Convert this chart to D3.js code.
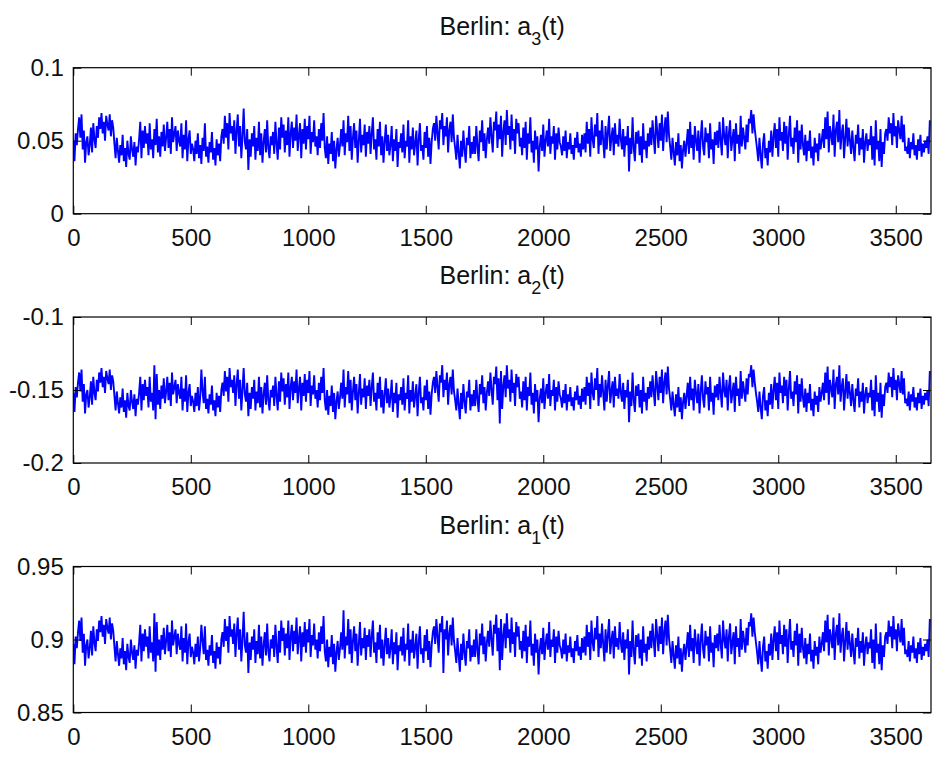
<!DOCTYPE html>
<html>
<head>
<meta charset="utf-8">
<script src="https://cdn.jsdelivr.net/npm/d3@7"></script>
<style>
  html, body { margin: 0; padding: 0; background: #fff; }
  svg text { font-family: "Liberation Sans", Arial, Helvetica, sans-serif; fill: #111; }
</style>
</head>
<body>
<svg id="fig" width="937" height="764"></svg>
<script>
// Daily coefficient series for Berlin, sampled every 5 days (values in thousandths).
const stepDays = 5;
const dayMax = 3650;
const xTickValues = [0, 500, 1000, 1500, 2000, 2500, 3000, 3500];

const a3Milli = [
  50,36,55,47, 58,66,52,68, 44,57,35,49,53,40, 47,59,42,62,51,45,
  60,52,66,58,69,55,63,50,67,61,57,68,53,64,59,
  48,38,52,43,35,47,40,54,36,45,32,50,41,37,53,44,39,49,33,46,42,51,
  63,38,57,45,60,
  48,55,40,62,44,51,38,58,47,65,42,53,39,56,46,61,43,
  52,63,45,58,41,66,49,55,60,43,57,50,
  46,62,38,54,44,64,36,51,57,41,48,
  44,36,50,41,55,38,47,34,52,43,62,39,46,35,49,42,56,37,45,33,51,40,48,36,53,
  58,48,67,52,62,44,69,55,60,
  50,64,41,57,68,46,60,38,53,72,49,
  44,58,30,51,39,55,
  46,60,37,52,43,63,40,55,35,49,58,42,64,45,38,53,47,
  56,41,63,48,37,59,44,66,
  52,61,42,57,47,66,39,55,63,45,59,50,68,43,54,62,38,58,48,65,44,60,51,67,41,56,49,64,46,53,40,58,45,62,50,69,
  45,38,53,34,48,41,56,36,50,31,44,52,39,47,
  58,46,64,40,55,49,67,43,60,37,52,62,45,57,35,50,65,42,54,47,61,39,56,
  48,60,41,55,66,44,51,37,58,46,63,40,53,35,49,61,43,
  54,40,47,60,36,51,43,58,32,49,45,
  55,42,61,38,50,46,64,35,53,44,59,40,48,57,33,51,62,43,47,37,56,45,60,39,52,34,49,58,
  62,50,67,55,44,64,58,69,47,60,53,66,42,57,63,49,68,52,
  45,37,54,42,31,50,39,57,44,35,52,47,60,38,49,41,
  53,41,60,46,36,57,49,64,43,55,38,51,
  59,48,66,53,42,63,57,70,45,61,51,67,39,56,64,47,71,54,60,44,68,50,58,41,65,55,62,46,
  52,40,59,45,63,37,55,48,66,42,50,35,57,44,53,29,46,
  54,43,61,39,50,57,46,65,41,53,48,60,37,55,44,59,49,
  46,40,53,43,57,38,49,44,55,41,47,37,52,45,56,42,48,39,54,44,
  55,42,63,48,58,39,66,51,45,61,53,69,41,57,47,64,50,38,60,44,56,67,43,52,59,40,62,48,54,46,65,51,
  44,58,39,53,47,
  60,29,52,41,66,45,36,56,
  48,57,40,53,35,62,44,50,38,55,46,
  59,47,64,52,41,67,56,45,62,50,68,43,58,66,49,70,54,
  46,37,52,42,33,49,40,55,36,47,31,44,50,39,
  48,58,41,63,45,54,37,60,50,43,57,35,52,64,46,40,59,49,55,38,62,44,51,34,56,47,
  57,45,63,50,40,66,53,47,60,38,55,64,43,51,58,36,62,48,54,41,67,46,59,52,44,61,49,65,
  62,71,55,68,58,51,
  44,36,52,40,31,48,55,38,45,33,50,42,57,39,
  53,62,45,58,39,66,50,56,43,63,48,60,37,54,67,46,52,41,59,49,64,35,57,44,61,
  47,40,54,36,50,43,57,38,46,33,52,42,48,36,55,44,50,
  58,45,66,51,70,42,60,54,47,68,39,57,63,49,71,44,55,61,38,52,65,46,59,
  50,41,57,45,36,54,48,61,40,52,44,58,35,49,55,43,51,
  47,60,37,53,33,64,44,50,36,58,32,49,41,55,
  58,50,66,55,62,47,69,53,60,45,64,57,51,67,49,61,43,
  46,41,52,38,49,44,55,40,47,37,51,43,54,39,48,42,50,45,53,41,
  64
];

const a2Milli = [
  -152,-165,-148,-155, -145,-138,-151,-136, -158,-146,-166,-153,-150,-162, -155,-144,-160,-141,-152,-157,
  -143,-151,-138,-145,-135,-148,-141,-152,-137,-142,-146,-136,-150,-140,-144,
  -154,-164,-151,-159,-166,-155,-162,-149,-165,-157,-169,-152,-161,-164,-150,-158,-163,-153,-168,-156,-160,-152,
  -141,-164,-146,-157,-143,
  -154,-148,-162,-141,-158,-152,-164,-133,-170,-139,-160,-150,-163,-147,-156,-142,-159,
  -151,-141,-157,-145,-161,-138,-153,-148,-143,-159,-146,-152,
  -156,-141,-164,-149,-158,-140,-165,-152,-146,-161,-154,
  -158,-165,-152,-161,-148,-164,-155,-136,-151,-159,-141,-163,-156,-166,-153,-160,-147,-164,-157,-168,-152,-162,-154,-165,-150,
  -145,-154,-137,-151,-141,-158,-135,-148,-143,
  -152,-140,-161,-146,-136,-156,-143,-164,-150,-135,-153,
  -158,-145,-168,-152,-163,-148,
  -156,-143,-164,-151,-159,-141,-162,-148,-166,-153,-145,-160,-140,-157,-164,-150,-155,
  -147,-161,-141,-154,-164,-144,-158,-138,
  -151,-142,-160,-146,-155,-138,-163,-148,-141,-157,-144,-152,-136,-159,-149,-141,-164,-145,-154,-139,-158,-143,-152,-137,-161,-147,-153,-140,-156,-150,-162,-145,-157,-141,-152,-135,
  -157,-164,-150,-167,-154,-161,-147,-165,-152,-170,-158,-151,-163,-155,
  -145,-156,-136,-162,-148,-153,-137,-159,-143,-164,-151,-141,-157,-146,-166,-152,-139,-160,-149,-155,-142,-163,-147,
  -154,-143,-161,-148,-138,-158,-152,-164,-145,-156,-141,-162,-150,-166,-153,-142,-159,
  -149,-162,-155,-143,-165,-152,-159,-145,-169,-153,-157,
  -148,-160,-142,-164,-152,-156,-140,-166,-150,-158,-144,-162,-154,-146,-168,-152,-141,-159,-155,-164,-147,-157,-143,-163,-151,-167,-153,-145,
  -141,-152,-137,-148,-158,-140,-145,-133,-155,-143,-150,-138,-160,-146,-141,-153,-136,-151,
  -157,-164,-149,-160,-170,-152,-163,-146,-158,-166,-151,-155,-143,-164,-153,-161,
  -150,-161,-143,-156,-165,-146,-153,-140,-159,-148,-164,-152,
  -144,-154,-138,-150,-160,-141,-146,-134,-157,-142,-173,-137,-163,-147,-140,-155,-133,-149,-143,-158,-136,-152,-145,-161,-139,-148,-141,-156,
  -151,-162,-144,-157,-141,-164,-148,-154,-138,-160,-152,-166,-146,-158,-150,-172,-156,
  -149,-159,-142,-163,-152,-146,-156,-139,-161,-150,-154,-143,-164,-148,-158,-144,-153,
  -156,-162,-150,-159,-146,-164,-153,-158,-148,-161,-155,-164,-151,-157,-147,-160,-154,-163,-149,-158,
  -148,-160,-141,-154,-145,-163,-138,-152,-157,-142,-150,-135,-161,-146,-155,-140,-152,-164,-143,-158,-147,-137,-159,-151,-144,-162,-141,-154,-149,-156,-139,-152,
  -158,-145,-163,-150,-155,
  -143,-172,-151,-161,-138,-157,-165,-147,
  -154,-146,-162,-150,-166,-141,-158,-152,-164,-148,-156,
  -144,-155,-140,-151,-161,-137,-147,-157,-141,-152,-136,-159,-145,-138,-153,-134,-149,
  -156,-164,-151,-160,-168,-153,-162,-148,-165,-155,-170,-158,-152,-163,
  -154,-145,-161,-141,-157,-149,-164,-143,-152,-159,-146,-166,-151,-140,-156,-162,-144,-153,-148,-164,-141,-158,-152,-167,-147,-155,
  -146,-157,-141,-152,-162,-138,-150,-155,-143,-164,-148,-140,-159,-152,-145,-165,-141,-154,-149,-161,-137,-156,-144,-151,-158,-142,-153,-139,
  -141,-133,-148,-136,-145,-152,
  -158,-165,-151,-162,-170,-154,-148,-164,-157,-168,-152,-160,-146,-163,
  -150,-141,-157,-145,-163,-138,-152,-147,-159,-141,-154,-143,-164,-149,-137,-156,-151,-161,-144,-153,-140,-166,-146,-158,-142,
  -155,-162,-149,-165,-152,-159,-146,-164,-156,-168,-151,-160,-154,-165,-148,-158,-152,
  -145,-157,-138,-152,-134,-160,-143,-149,-155,-136,-163,-146,-141,-153,-133,-158,-148,-142,-164,-151,-139,-156,-144,
  -152,-161,-146,-157,-165,-149,-154,-142,-162,-151,-158,-145,-166,-153,-148,-159,-152,
  -155,-143,-164,-150,-168,-140,-158,-152,-165,-145,-169,-153,-161,-148,
  -145,-152,-138,-148,-141,-155,-135,-150,-143,-157,-140,-146,-152,-137,-153,-142,-159,
  -156,-161,-151,-164,-153,-158,-148,-162,-155,-164,-152,-159,-149,-163,-154,-160,-152,-157,-150,-161,
  -137
];

const a1Milli = [
  897,883,902,894, 905,913,899,915, 891,904,882,896,900,887, 894,906,889,909,898,892,
  907,899,913,905,916,902,910,897,914,908,904,915,900,911,906,
  895,885,899,890,882,894,887,901,883,892,879,897,888,884,900,891,886,896,880,893,889,898,
  910,885,904,892,907,
  895,902,887,909,891,898,885,918,878,912,889,900,886,903,893,908,890,
  899,910,892,905,888,913,896,902,907,890,904,897,
  893,909,885,901,891,911,883,898,904,888,895,
  891,883,897,888,902,885,894,910,899,890,909,886,893,882,896,889,903,884,892,880,898,887,895,883,900,
  905,895,914,899,909,891,916,902,907,
  897,911,888,904,915,893,907,885,900,919,896,
  891,905,877,898,886,902,
  893,907,884,899,890,910,887,902,882,896,905,889,911,892,885,900,894,
  903,888,910,895,884,906,891,913,
  899,908,889,904,894,913,886,902,910,892,906,897,915,890,901,909,885,905,895,912,891,907,898,914,888,903,896,911,893,900,887,905,892,909,897,916,
  892,885,900,881,895,888,903,883,897,878,891,899,886,894,
  905,893,920,887,902,896,914,890,907,884,899,909,892,904,882,897,912,889,901,894,908,886,903,
  895,907,888,902,913,891,898,884,905,893,910,887,900,882,896,908,890,
  901,887,894,907,883,898,890,905,879,896,892,
  902,889,908,885,897,893,911,882,900,891,906,887,895,904,880,898,909,890,894,884,903,892,907,886,899,881,896,905,
  909,897,914,902,891,911,905,916,877,907,900,913,889,904,910,896,915,899,
  892,884,901,889,878,897,886,904,891,882,899,894,907,885,896,888,
  900,888,907,893,883,904,896,911,890,902,885,898,
  906,895,913,900,889,910,904,917,892,908,879,914,886,903,911,894,918,901,907,891,915,897,905,888,912,902,909,893,
  899,887,906,892,910,884,902,895,913,889,897,882,904,891,900,876,893,
  901,890,908,886,897,904,893,912,888,900,895,907,884,902,891,906,896,
  893,887,900,890,904,885,896,891,902,888,894,884,899,892,903,889,895,886,901,891,
  902,889,910,895,905,886,913,898,892,908,900,916,888,904,894,911,897,885,907,891,903,914,890,899,906,887,909,895,901,893,912,898,
  891,905,886,900,894,
  907,876,899,888,913,892,883,903,
  895,904,887,900,882,909,891,897,885,902,893,
  906,894,911,899,888,914,903,892,909,897,915,890,905,913,896,917,901,
  893,884,899,889,880,896,887,902,883,894,878,891,897,886,
  895,905,888,910,892,901,884,907,897,890,904,882,899,911,893,887,906,896,902,885,909,891,898,881,903,894,
  904,892,910,897,887,913,900,894,907,885,902,911,890,898,905,883,909,895,901,888,914,893,906,899,891,908,896,912,
  909,918,902,915,905,898,
  891,883,899,887,878,895,902,885,892,880,897,889,904,886,
  900,909,892,905,886,913,897,903,890,910,895,907,884,901,914,893,899,888,906,896,911,882,904,891,908,
  894,887,901,883,897,890,904,885,893,880,899,889,895,883,902,891,897,
  905,892,913,898,917,889,907,901,894,915,886,904,910,896,918,891,902,908,885,899,912,893,906,
  897,888,904,892,883,901,895,908,887,899,891,905,882,896,902,890,898,
  894,907,884,900,880,911,891,897,883,905,879,896,888,902,
  905,897,913,902,909,894,916,900,907,892,911,904,898,914,896,908,890,
  893,888,899,885,896,891,902,887,894,884,898,890,901,886,895,889,897,892,900,888,
  914
];

// Y-axis ticks and their printed labels for each panel
const a3Ticks = [0, 0.05, 0.1];
const a3TickLabels = ["0", "0.05", "0.1"];
const a2Ticks = [-0.2, -0.15, -0.1];
const a2TickLabels = ["-0.2", "-0.15", "-0.1"];
const a1Ticks = [0.85, 0.9, 0.95];
const a1TickLabels = ["0.85", "0.9", "0.95"];

const panels = [
  { sub: "3", values: a3Milli, ticks: a3Ticks, labels: a3TickLabels, top: 67.7 },
  { sub: "2", values: a2Milli, ticks: a2Ticks, labels: a2TickLabels, top: 317 },
  { sub: "1", values: a1Milli, ticks: a1Ticks, labels: a1TickLabels, top: 566.5 }
];

const svg = d3.select("#fig");
const left = 73.3, right = 931, plotH = 146;
const tickLen = 8;

const x = d3.scaleLinear().domain([0, dayMax]).range([left, right]);

panels.forEach((p, k) => {
  const y = d3.scaleLinear()
    .domain([p.ticks[0], p.ticks[p.ticks.length - 1]])
    .range([p.top + plotH, p.top]);

  const g = svg.append("g");

  // clip region for the trace
  const clipId = "clip" + k;
  g.append("clipPath").attr("id", clipId)
    .append("rect").attr("x", left).attr("y", p.top)
    .attr("width", right - left).attr("height", plotH);

  // trace
  const line = d3.line()
    .x((d, i) => x(i * stepDays))
    .y(d => y(d / 1000));
  g.append("path")
    .datum(p.values)
    .attr("clip-path", `url(#${clipId})`)
    .attr("fill", "none")
    .attr("stroke", "#0000ff")
    .attr("stroke-width", 1.9)
    .attr("stroke-linejoin", "bevel")
    .attr("d", line);

  // bottom axis with labels, ticks pointing inward
  const xAxis = g.append("g")
    .attr("transform", `translate(0,${p.top + plotH})`)
    .call(d3.axisBottom(x).tickValues(xTickValues).tickFormat(d3.format("d"))
      .tickSizeInner(-tickLen).tickSizeOuter(0).tickPadding(15));
  // top axis, ticks only
  const xTop = g.append("g")
    .attr("transform", `translate(0,${p.top})`)
    .call(d3.axisTop(x).tickValues(xTickValues).tickFormat("")
      .tickSizeInner(-tickLen).tickSizeOuter(0));
  // left axis with labels
  const yAxis = g.append("g")
    .attr("transform", `translate(${left},0)`)
    .call(d3.axisLeft(y).tickValues(p.ticks).tickFormat((d, i) => p.labels[i])
      .tickSizeInner(-tickLen).tickSizeOuter(0).tickPadding(9.5));
  // right axis, ticks only
  const yRight = g.append("g")
    .attr("transform", `translate(${right},0)`)
    .call(d3.axisRight(y).tickValues(p.ticks).tickFormat("")
      .tickSizeInner(-tickLen).tickSizeOuter(0));

  [xAxis, xTop, yAxis, yRight].forEach(a => {
    a.select(".domain").remove();
    a.selectAll(".tick line").attr("stroke", "#000").attr("stroke-width", 1);
    a.selectAll(".tick text").attr("font-size", 24).attr("fill", "#111")
      .attr("font-family", "'Liberation Sans', Arial, sans-serif");
  });

  // axes box
  g.append("rect")
    .attr("x", left).attr("y", p.top)
    .attr("width", right - left).attr("height", plotH)
    .attr("fill", "none").attr("stroke", "#000").attr("stroke-width", 1.2);

  // title with subscript
  const title = g.append("text")
    .attr("x", (left + right) / 2)
    .attr("y", p.top - 33)
    .attr("text-anchor", "middle")
    .attr("font-size", 25);
  title.append("tspan").text("Berlin: a");
  title.append("tspan").attr("dy", 10).attr("font-size", 18).text(p.sub);
  title.append("tspan").attr("dy", -10).text("(t)");
});
</script>
</body>
</html>
